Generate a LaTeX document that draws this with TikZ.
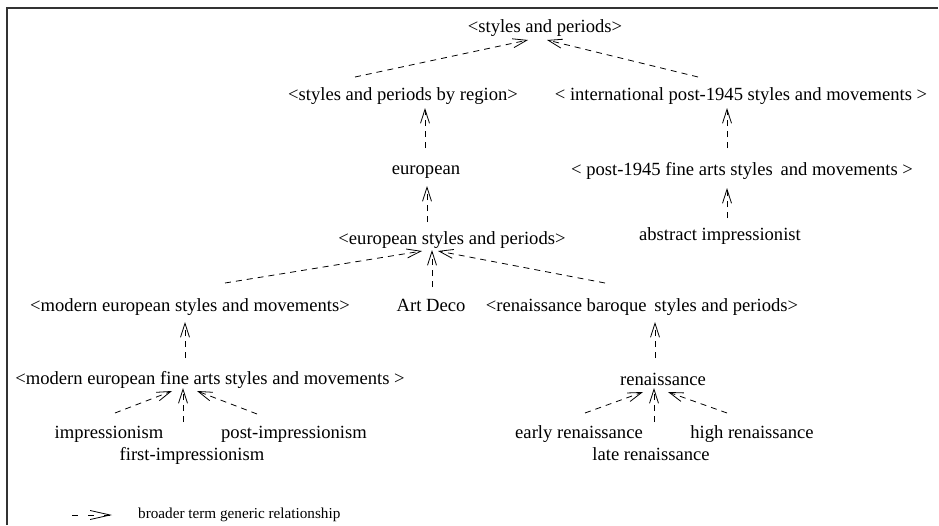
\documentclass[tikz,border=0pt]{standalone}
\usepackage{fontspec}
\setmainfont{Liberation Serif}
\usetikzlibrary{arrows.meta}

\tikzset{
  term/.style={inner sep=0pt, text height=13pt, text depth=4pt, font=\fontsize{18.6}{20}\selectfont},
  bt/.style={line width=0.8pt, dash pattern=on 6pt off 5pt, -{Straight Barb[length=14pt,width=9pt,line width=0.8pt]}},
}

\begin{document}
\begin{tikzpicture}[x=1pt, y=-1pt]
    \useasboundingbox (0,0) rectangle (939,525);
    % 边框
    \draw[line width=1.2pt, black!80] (7,525) -- (7,8) -- (938,8);

    % 术语
    \node[term] (sp) at (545,28) {<styles and periods>};
    \node[term] (byregion) at (403,96) {<styles and periods by region>};
    \node[term] (intl) at (741,96) {< international post-1945 styles and movements >};
    \node[term] (european) at (426,170) {european};
    \node[term] (postfa) at (742,171) {< post-1945 fine arts styles\, and movements >};
    \node[term] (abstract) at (720,236) {abstract impressionist};
    \node[term] (eurstyles) at (452,240) {<european styles and periods>};
    \node[term] (modern) at (190,307) {<modern european styles and movements>};
    \node[term] (artdeco) at (431,307) {Art Deco};
    \node[term] (renbar) at (642,307) {<renaissance baroque\, styles and periods>};
    \node[term] (modfine) at (210,380) {<modern european fine arts styles and movements >};
    \node[term] (renaissance) at (663,381) {renaissance};
    \node[term] (impr) at (109,434) {impressionism};
    \node[term] (postimpr) at (294,434) {post-impressionism};
    \node[term] (firstimpr) at (192,456) {first-impressionism};
    \node[term] (early) at (579,434) {early renaissance};
    \node[term] (high) at (752,434) {high renaissance};
    \node[term] (late) at (651,456) {late renaissance};

    % 上位词关系
    \draw[bt] ([shift={(-48,-19)}]byregion.center) -- ([shift={(-17,12)}]sp.center);
    \draw[bt] ([shift={(-43,-19)}]intl.center) -- ([shift={(2,12)}]sp.center);
    \draw[bt] ([shift={(-1,-22)}]european.center) -- ([shift={(22,12)}]byregion.center);
    \draw[bt] ([shift={(-15,-23)}]postfa.center) -- ([shift={(-14,12)}]intl.center);
    \draw[bt] ([shift={(-25,-18)}]eurstyles.center) -- ([shift={(1,16)}]european.center);
    \draw[bt] ([shift={(7,-18)}]abstract.center) -- ([shift={(-15,17)}]postfa.center);
    \draw[bt] ([shift={(35,-24)}]modern.center) -- ([shift={(-30,11)}]eurstyles.center);
    \draw[bt] ([shift={(1,-20)}]artdeco.center) -- ([shift={(-20,10)}]eurstyles.center);
    \draw[bt] ([shift={(-37,-24)}]renbar.center) -- ([shift={(-14,11)}]eurstyles.center);
    \draw[bt] ([shift={(-25,-22)}]modfine.center) -- ([shift={(-5,15)}]modern.center);
    \draw[bt] ([shift={(-8,-23)}]renaissance.center) -- ([shift={(13,15)}]renbar.center);
    \draw[bt] ([shift={(6,-21)}]impr.center) -- ([shift={(-38,11)}]modfine.center);
    \draw[bt] ([shift={(-9,-34)}]firstimpr.center) -- ([shift={(-27,8)}]modfine.center);
    \draw[bt] ([shift={(-37,-20)}]postimpr.center) -- ([shift={(-13,11)}]modfine.center);
    \draw[bt] ([shift={(6,-21)}]early.center) -- ([shift={(-20,11)}]renaissance.center);
    \draw[bt] ([shift={(3,-34)}]late.center) -- ([shift={(-9,7)}]renaissance.center);
    \draw[bt] ([shift={(-25,-21)}]high.center) -- ([shift={(5,11)}]renaissance.center);

    % 图例
    \node[inner sep=0pt, anchor=west, font=\fontsize{15.2}{17}\selectfont] (legend) at (138,515) {broader term generic relationship};
    \coordinate (lgtail) at ([xshift=-66pt]legend.west);
    \coordinate (lghead) at ([xshift=-26pt]legend.west);
    \draw[bt, dash pattern=on 6pt off 10pt, -{Straight Barb[length=20pt,width=9pt,line width=0.8pt]}] (lgtail) -- (lghead);
\end{tikzpicture}
\end{document}
